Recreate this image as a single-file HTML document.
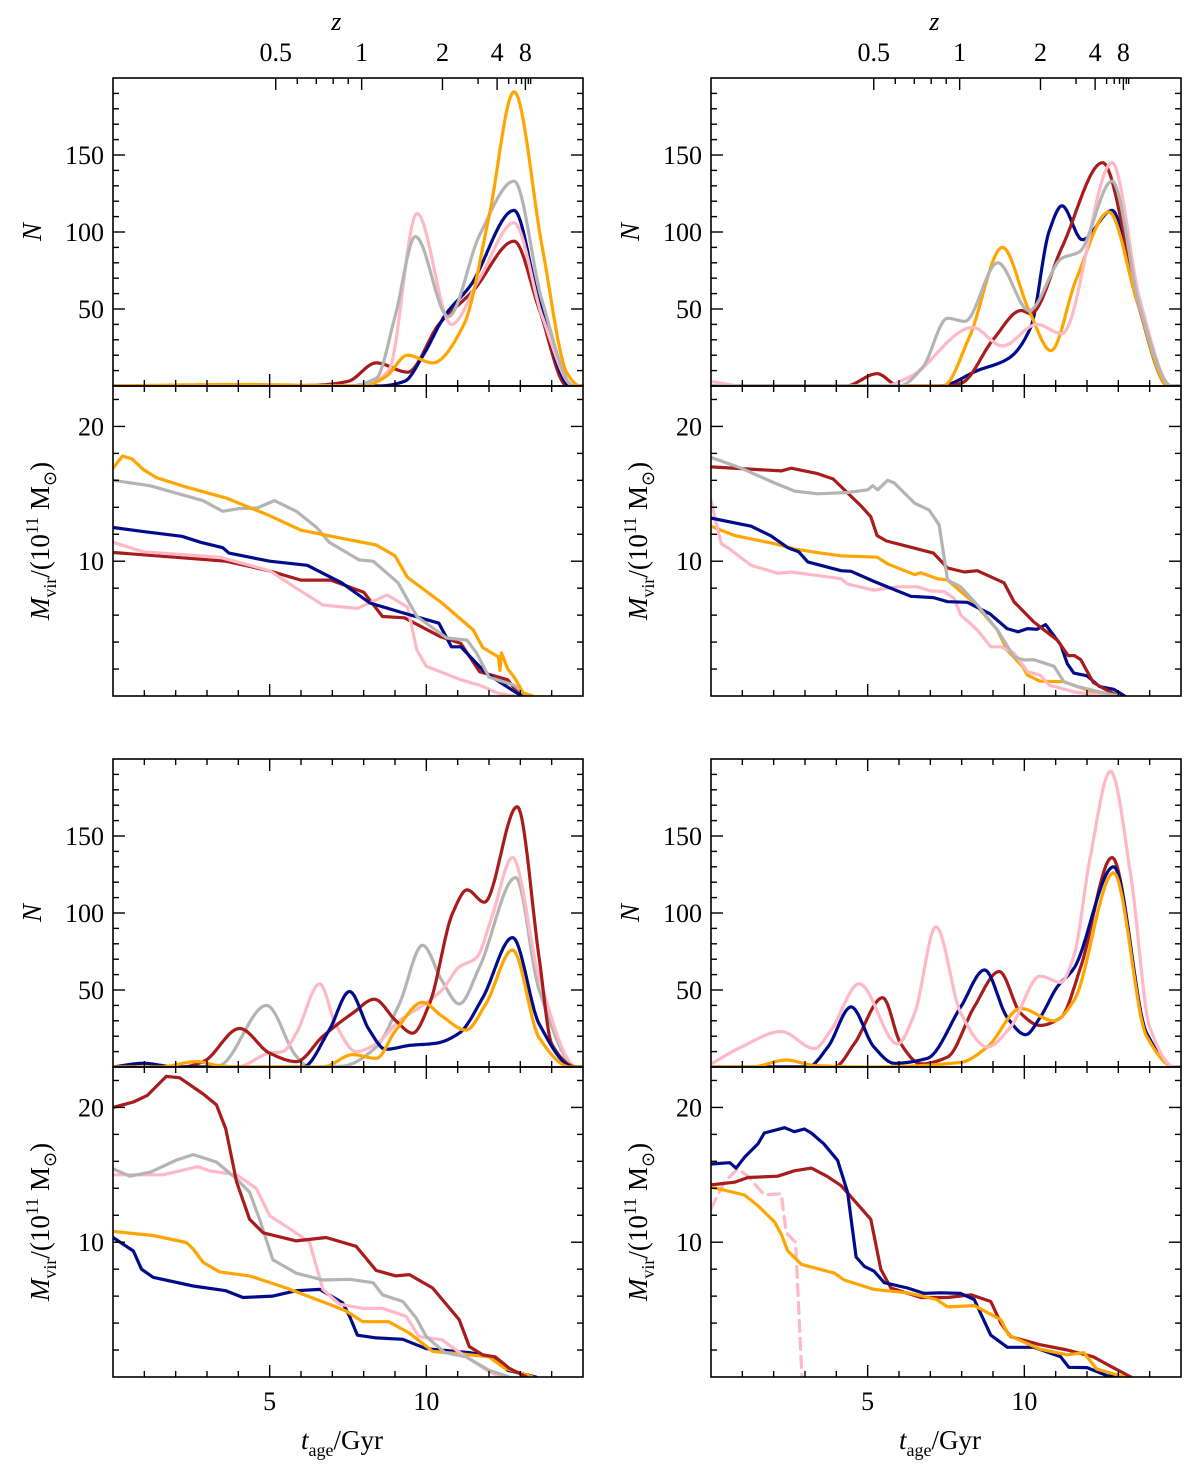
<!DOCTYPE html>
<html><head><meta charset="utf-8"><style>
html,body{margin:0;padding:0;background:#fff;}
svg{display:block;font-family:"Liberation Serif",serif;}
</style></head><body>
<svg id="fig" width="1200" height="1465" viewBox="0 0 1200 1465" xmlns="http://www.w3.org/2000/svg"></svg>
<script>
// ---- data: [t_age (Gyr), value] ----
const tlN_red=[[0,0],[5,0],[6.5,0.5],[7.5,3],[8.4,15],[9.4,9],[10.4,40],[11.5,62],[12.8,94],[13.6,50],[14.5,0],[15,0]];
const tlN_blue=[[0,0],[8.5,0],[9.3,3],[9.9,20],[10.6,46],[11.4,65],[12.8,114],[13.6,55],[14.6,0],[15,0]];
const tlN_orange=[[0,0],[4,1],[8,0],[8.7,6],[9.4,20],[10.2,15],[11.2,40],[12.0,110],[12.8,191],[13.7,90],[14.5,8],[14.9,0],[15,0]];
const tlN_gray=[[0,0],[7.5,0],[8.4,5],[9.0,45],[9.65,97],[10.7,45],[11.7,98],[12.8,133],[13.7,55],[14.7,0],[15,0]];
const tlN_pink=[[0,0],[8,0],[8.8,10],[9.7,112],[10.8,40],[11.7,70],[12.8,106],[13.7,45],[14.7,0],[15,0]];

const trN_red=[[0,0],[4.3,0],[5.3,8],[6.0,0],[7.5,0],[8.0,2],[9.0,30],[9.9,49],[10.2,47],[11.2,90],[12.5,145],[13.5,70],[14.6,0],[15,0]];
const trN_blue=[[0,0],[7.3,0],[8.5,10],[9.5,18],[10.2,38],[10.8,101],[11.2,117],[11.85,95],[12.8,114],[13.6,55],[14.6,0],[15,0]];
const trN_orange=[[0,0],[7.4,0],[8.25,32],[9.3,90],[10.15,49],[10.85,23],[11.65,69],[12.7,113],[13.6,55],[14.6,0],[15,0]];
const trN_gray=[[0,0],[6.0,0],[6.75,12],[7.55,44],[8.1,42],[9.15,80],[10.15,49],[11.2,83],[11.75,87],[12.8,133],[13.7,50],[14.7,0],[15,0]];
const trN_pink=[[0,3],[1,0],[5.5,0],[6.35,6],[8.35,38],[9.3,26],[10.4,40],[11.2,34],[12.8,145],[13.7,55],[14.7,0],[15,0]];

const blN_red=[[0,0],[2.2,0],[2.88,3.5],[4.04,25],[5.0,9],[5.85,3.5],[6.7,20],[7.65,35],[8.34,44],[9.03,30],[9.56,22],[10.1,41],[10.84,100],[11.3,115],[11.85,107],[12.9,169],[13.6,71],[14.0,15],[14.8,0],[15,0]];
const blN_gray=[[0,0],[3.0,0],[3.4,1],[4.9,40],[5.85,7],[6.27,0],[7.3,0.5],[8.4,13],[9.14,41],[9.88,79],[10.5,56],[11.05,41],[11.7,65],[12.85,123],[13.6,50],[14.8,0],[15,0]];
const blN_pink=[[0,0],[3.94,0],[5.0,9],[5.42,10],[5.85,22],[6.6,54],[7.1,28],[7.76,10],[8.4,15],[9.14,30],[9.88,40],[10.5,50],[11.05,65],[11.6,71],[12.1,98],[12.75,136],[13.6,58],[14.8,0],[15,0]];
const blN_blue=[[0,0],[0.97,2.4],[2.0,0],[6.06,0],[6.9,24],[7.55,49],[8.18,24],[8.7,11.5],[9.46,14],[10.3,15.4],[11.05,22],[11.8,45],[12.75,84],[13.6,28],[14.7,0],[15,0]];
const blN_orange=[[0,0],[1.5,0],[2.66,3.5],[3.4,0.8],[4,0],[6.7,0],[7.65,8],[8.4,5.6],[9.03,24],[9.88,42],[10.5,33],[11.26,24],[11.9,41],[12.75,76],[13.6,19],[14.6,0],[15,0]];

const brN_pink=[[0,2],[0.97,13],[2.24,23],[3.3,12],[3.83,24],[4.73,54],[5.95,15],[6.5,35],[7.18,91],[7.97,35],[8.82,13],[9.56,26],[10.5,59],[11.16,55],[11.58,72],[12.1,136],[12.75,192],[13.4,124],[14.0,26],[14.8,0],[15,0]];
const brN_blue=[[0,0],[3.09,0],[3.73,13],[4.47,39],[5.2,13],[5.85,2.4],[6.9,5.6],[7.97,39],[8.73,63],[9.46,32],[10.04,21],[10.5,32],[11.05,52],[11.58,64],[12.85,130],[13.9,22],[14.8,0],[15,0]];
const brN_red=[[0,0],[3.94,0],[4.57,15],[5.48,45],[6.06,15],[6.7,2],[7.55,6.5],[8.4,39],[9.2,62],[9.88,35],[10.5,27],[11.16,32],[11.8,65],[12.8,136],[13.9,22],[14.8,0],[15,0]];
const brN_orange=[[0,0],[1.28,0],[2.4,4.5],[3.3,1],[5,0],[7.97,3],[8.82,13],[9.88,38],[10.95,30],[11.58,43],[12.85,126],[13.9,20],[14.8,0],[15,0]];

const tlM_orange=[[0,16.9],[0.3,17.8],[0.6,17.6],[0.97,16.8],[1.39,16.2],[2.34,15.5],[3.6,14.7],[4.98,13.4],[6.0,12.3],[7.3,11.7],[8.4,11.2],[9.0,10.4],[9.4,8.8],[10.5,6.9],[11.5,4.9],[11.8,3.6],[12.3,2.9],[12.35,1.9],[12.4,3.2],[12.6,2.0],[12.8,1.4],[13.1,0.2],[13.4,0]];
const tlM_gray=[[0,16.0],[1.17,15.6],[2.87,14.5],[3.5,13.7],[4.0,13.9],[4.6,13.95],[5.15,14.5],[5.85,13.7],[6.5,12.5],[6.9,11.4],[7.85,10.1],[8.3,10.0],[9.1,8.4],[9.7,5.9],[10.65,4.3],[11.3,4.15],[11.6,3.2],[12.0,1.4],[12.8,0.8],[13.2,0]];
const tlM_blue=[[0,12.5],[0.97,12.2],[2.2,11.85],[2.8,11.4],[3.5,11.0],[3.7,10.6],[5.0,10.0],[6.2,9.7],[7.3,8.4],[8.2,6.9],[9.2,6.2],[10.4,5.4],[10.8,3.65],[11.1,3.65],[11.9,1.7],[12.9,0.2],[13.2,0]];
const tlM_red=[[0,10.65],[3.6,10.0],[4.97,9.3],[6.0,8.6],[6.95,8.6],[8.0,7.7],[8.6,5.9],[9.3,5.8],[10.45,4.4],[11.1,3.9],[11.7,1.8],[12.6,1.2],[13.0,0]];
const tlM_pink=[[0,11.4],[0.97,10.7],[3.4,10.3],[4.36,9.7],[5.0,9.3],[5.85,8.0],[6.7,6.75],[7.8,6.5],[8.75,7.5],[9.4,6.6],[9.7,3.4],[10.0,2.2],[11.1,1.2],[11.7,0.8],[12.3,0.2],[12.8,0]];

const trM_red=[[0,17.0],[2.24,16.7],[2.56,16.9],[3.4,16.5],[3.9,16.1],[4.79,14.1],[5.1,13.3],[5.3,11.9],[5.6,11.5],[7.1,10.6],[7.55,9.5],[8.08,9.2],[8.5,9.3],[9.35,8.4],[9.67,7.0],[10.3,5.5],[11.05,4.15],[11.4,3.0],[11.6,3.0],[11.8,2.7],[12.2,1.0],[12.5,0.6],[13.0,0]];
const trM_gray=[[0,17.7],[0.97,16.9],[2.03,15.8],[2.67,15.2],[3.4,15.0],[4.36,15.1],[5.0,15.3],[5.16,15.6],[5.32,15.3],[5.64,16.0],[5.85,15.8],[6.5,14.3],[6.96,13.8],[7.28,12.7],[7.55,8.6],[7.97,8.1],[8.5,6.75],[9.14,4.9],[9.67,2.9],[9.99,2.67],[10.3,2.7],[10.95,2.2],[11.26,1.06],[11.7,0.7],[12.6,0.2],[13.0,0]];
const trM_blue=[[0,13.2],[1.28,12.6],[1.9,11.9],[2.45,11.0],[2.8,10.7],[3.09,9.95],[4.15,9.3],[4.47,9.25],[5.2,8.5],[6.38,7.4],[7.1,7.3],[7.55,7.0],[8.18,6.95],[8.9,6.1],[9.45,5.0],[9.8,4.76],[10.1,5.0],[10.4,4.95],[10.68,5.3],[11.16,3.8],[11.37,2.4],[11.58,1.7],[12.0,1.5],[12.4,0.7],[12.85,0.5],[13.06,0.2],[13.2,0]];
const trM_orange=[[0,12.6],[0.76,11.9],[2.03,11.3],[2.67,10.9],[3.5,10.6],[4.15,10.4],[5.3,10.3],[5.64,9.8],[6.5,9.0],[6.7,9.15],[7.23,8.7],[7.55,8.6],[8.4,6.9],[9.14,4.9],[9.45,3.4],[9.94,2.2],[10.1,1.55],[10.5,1.1],[11.26,1.06],[11.7,0.7],[12.2,0.3],[13.0,0]];
const trM_pink=[[0,14.5],[0.17,12.8],[0.33,11.3],[0.54,11.0],[1.28,9.7],[2.13,9.1],[2.56,9.2],[4.15,8.7],[4.36,8.3],[5.2,7.85],[5.96,8.1],[6.6,8.1],[7.0,7.8],[7.44,7.75],[7.76,7.25],[7.97,6.0],[8.5,4.9],[8.93,3.65],[9.25,3.65],[9.67,3.2],[10.1,1.8],[10.5,1.55],[10.8,0.8],[11.6,0.3],[12.6,0]];

const blM_red=[[0,20.0],[0.65,20.4],[1.1,20.9],[1.7,22.3],[2.13,22.2],[2.88,21.0],[3.3,20.2],[3.6,18.4],[3.94,14.5],[4.36,11.7],[4.79,10.7],[5.85,10.1],[6.8,10.35],[7.76,9.7],[8.4,7.9],[9.03,7.5],[9.46,7.6],[10.2,6.6],[10.6,5.5],[11.05,4.25],[11.37,2.26],[11.8,1.64],[12.2,1.5],[12.64,0.65],[13.2,0]];
const blM_gray=[[0,15.45],[0.54,14.9],[1.2,15.2],[2.03,16.1],[2.56,16.5],[3.3,15.95],[3.94,14.7],[4.36,13.7],[4.68,11.7],[5.1,8.7],[5.85,7.7],[6.7,7.2],[7.55,7.25],[8.3,7.0],[8.6,6.1],[9.25,5.6],[9.67,4.4],[10.0,3.0],[10.6,1.8],[11.26,1.5],[12.0,0.5],[12.64,0]];
const blM_pink=[[0,15.0],[1.6,15.0],[2.7,15.6],[3.09,15.3],[3.94,15.0],[4.57,14.0],[5.0,11.96],[5.64,11.0],[6.27,10.0],[6.7,6.5],[7.23,5.4],[7.97,5.1],[8.6,5.1],[9.35,4.5],[9.77,3.0],[10.5,2.76],[10.95,2.0],[11.6,1.0],[12.0,0.4],[12.4,0]];
const blM_blue=[[0,10.35],[0.65,9.35],[0.91,8.0],[1.28,7.4],[2.56,6.75],[3.6,6.4],[4.15,5.9],[5.1,6.0],[5.85,6.4],[6.6,6.5],[7.33,5.5],[7.55,4.5],[7.8,3.1],[8.4,2.9],[9.25,2.8],[10.0,2.1],[11.4,1.8],[12.1,1.5],[12.6,0.5],[13.5,0]];
const blM_orange=[[0,10.8],[1.28,10.5],[2.34,9.98],[2.56,9.5],[2.88,8.5],[3.4,7.8],[4.36,7.5],[5.53,6.6],[6.9,5.4],[7.44,4.9],[7.97,4.1],[8.8,4.1],[9.46,3.26],[10.2,1.9],[11.16,1.7],[12.0,1.5],[12.5,0.65],[13.4,0]];

const brM_blue=[[0,15.8],[0.6,15.9],[0.8,15.5],[1.07,16.3],[1.5,17.3],[1.7,18.1],[2.35,18.5],[2.66,18.2],[2.98,18.4],[3.2,18.1],[3.6,17.3],[4.04,16.07],[4.36,13.7],[4.63,8.9],[4.9,8.2],[5.2,7.86],[5.53,7.0],[6.27,6.6],[6.8,6.2],[7.33,6.25],[7.97,6.2],[8.4,5.75],[8.93,3.1],[9.46,2.2],[10.3,2.2],[11.16,1.5],[11.42,0.72],[12.0,0.7],[12.64,0.1],[12.9,0]];
const brM_red=[[0,14.25],[0.75,14.45],[1.18,14.8],[2.13,14.9],[2.66,15.3],[3.2,15.5],[3.7,14.9],[4.15,14.2],[4.57,13.1],[5.1,11.7],[5.42,8.0],[5.74,6.6],[6.7,5.9],[7.55,5.9],[8.3,6.1],[8.93,5.6],[9.25,4.0],[9.56,3.0],[10.5,2.4],[11.37,2.0],[12.2,1.5],[12.75,0.8],[13.4,0]];
const brM_orange=[[0,14.1],[1.07,13.5],[1.5,12.7],[2.03,11.5],[2.24,10.6],[2.45,9.35],[2.88,8.36],[3.94,7.7],[4.25,7.2],[5.2,6.5],[6.27,6.25],[7.2,5.75],[7.55,5.2],[8.4,5.3],[9.25,4.25],[9.5,3.1],[10.5,2.06],[11.37,1.65],[11.9,1.8],[12.3,0.6],[13.2,0]];
const brM_pink=[[0,12.5],[0.43,14.5],[0.86,15.45],[1.18,14.9],[1.7,13.5],[2.24,13.6],[2.4,10.7],[2.7,10.0],[2.9,0]];

const zLabels=[0.5,1,2,4,8];
const zMinor=[0.6,0.7,0.8,0.9,3,5,6,7,9,10];
const nTicks=[50,100,150];
const mTicks=[10,20];
const tTicks=[5,10];

const COL={red:'#a81c1c',blue:'#000c8a',orange:'#ffa500',gray:'#b4b4b4',pink:'#ffb8c6'};
const NS='http://www.w3.org/2000/svg';
const svg=document.getElementById('fig');
function el(tag,attrs,parent){const e=document.createElementNS(NS,tag);for(const k in attrs)e.setAttribute(k,attrs[k]);(parent||svg).appendChild(e);return e;}

function lookback(z){
  const tH=977.8/67.74, Om=0.3089, OL=1-Om, n=400; let s=0;
  const f=x=>1/((1+x)*Math.sqrt(Om*Math.pow(1+x,3)+OL));
  const h=z/n;
  for(let i=0;i<=n;i++){const w=(i===0||i===n)?1:(i%2?4:2);s+=w*f(i*h);}
  return tH*s*h/3;
}

// monotone cubic (Fritsch-Carlson) interpolation in data space, sampled densely
function monoSample(data,step){
  const n=data.length,xs=data.map(p=>p[0]),ys=data.map(p=>p[1]);
  const d=[],m=new Array(n);
  for(let i=0;i<n-1;i++)d.push((ys[i+1]-ys[i])/(xs[i+1]-xs[i]));
  m[0]=d[0];m[n-1]=d[n-2];
  for(let i=1;i<n-1;i++){
    if(d[i-1]*d[i]<=0)m[i]=0;
    else{const h0=xs[i]-xs[i-1],h1=xs[i+1]-xs[i];const w1=2*h1+h0,w2=h1+2*h0;m[i]=(w1+w2)/(w1/d[i-1]+w2/d[i]);}
  }
  const out=[];
  for(let i=0;i<n-1;i++){
    const h=xs[i+1]-xs[i];const k=Math.max(2,Math.ceil(h/step));
    for(let j=0;j<k;j++){
      const s=j/k,s2=s*s,s3=s2*s;
      const v=(2*s3-3*s2+1)*ys[i]+(s3-2*s2+s)*h*m[i]+(-2*s3+3*s2)*ys[i+1]+(s3-s2)*h*m[i+1];
      out.push([xs[i]+s*h,v]);
    }
  }
  out.push([xs[n-1],ys[n-1]]);
  return out;
}

let clipId=0;
function panel(cfg){
  const {x0,y0,w,h,ymax,kind,series,showX,showZ,name}=cfg;
  const g=el('g',{});
  
  
  const X=t=>x0+t/15*w;
  const Y=v=>y0+h-v/ymax*h;
  const cid='clip'+(clipId++);
  const cp=el('clipPath',{id:cid},g);el('rect',{x:x0,y:y0,width:w,height:h},cp);
  const lg=el('g',{'clip-path':'url(#'+cid+')'},g);
  series.forEach(s=>{
    const src=kind==='N'?monoSample(s.data,0.03):s.data;
    const pts=src.map(p=>[X(p[0]),Y(p[1])]);
    const d='M'+pts.map(p=>p[0].toFixed(1)+','+p[1].toFixed(1)).join(' L');
    const path=el('path',{d:d,fill:'none',stroke:COL[s.c],'stroke-width':3.2,'stroke-linejoin':'round','stroke-linecap':'round'},lg);
    if(s.dash)path.setAttribute('stroke-dasharray','11,7');
    
    
  });
  el('rect',{x:x0,y:y0,width:w,height:h,fill:'none',stroke:'#000','stroke-width':1.6},g);
  const tk={stroke:'#000','stroke-width':1.4};
  for(let t=1;t<15;t++){
    const L=(t%5===0)?12:6,x=X(t);
    el('line',Object.assign({x1:x,x2:x,y1:y0+h,y2:y0+h-L},tk),g);
    if(!showZ)el('line',Object.assign({x1:x,x2:x,y1:y0,y2:y0+L},tk),g);
  }
  const minorStep=kind==='N'?10:2, majorStep=kind==='N'?50:10;
  for(let v=minorStep;v<ymax;v+=minorStep){
    const L=(v%majorStep===0)?12:6,y=Y(v);
    el('line',Object.assign({x1:x0,x2:x0+L,y1:y,y2:y},tk),g);
    el('line',Object.assign({x1:x0+w,x2:x0+w-L,y1:y,y2:y},tk),g);
  }
  (kind==='N'?nTicks:mTicks).forEach(v=>{
    const tx=el('text',{x:x0-9,y:Y(v)+9,'font-size':26,'text-anchor':'end'},g);tx.textContent=v;
    
    
  });
  if(showX){
    tTicks.forEach(t=>{
      const tx=el('text',{x:X(t),y:y0+h+33,'font-size':26,'text-anchor':'middle'},g);tx.textContent=t;
      
      
    });
    const xt=el('text',{x:x0+w/2-6,y:y0+h+72,'font-size':27,'text-anchor':'middle'},g);
    xt.innerHTML='<tspan font-style="italic">t</tspan><tspan font-size="18" dy="7">age</tspan><tspan dy="-7">/Gyr</tspan>';
    
    
  }
  if(showZ){
    zLabels.concat(zMinor).forEach(z=>{
      const t=lookback(z);if(t>15)return;const x=X(t);const major=zLabels.includes(z);
      el('line',Object.assign({x1:x,x2:x,y1:y0,y2:y0+(major?12:6)},tk),g);
    });
    zLabels.forEach(z=>{
      const tx=el('text',{x:X(lookback(z)),y:y0-17,'font-size':26,'text-anchor':'middle'},g);tx.textContent=z;
      
      
    });
    const zt=el('text',{x:X(lookback(0.82)),y:y0-48,'font-size':26,'text-anchor':'middle','font-style':'italic'},g);zt.textContent='z';
    
    
  }
  const cy=y0+h/2;
  const yt=el('text',{x:0,y:0,'font-size':27,'text-anchor':'middle',transform:'translate('+(kind==='N'?x0-72:x0-64)+','+cy+') rotate(-90)'},g);
  if(kind==='N'){yt.innerHTML='<tspan font-style="italic">N</tspan>';}
  else{yt.innerHTML='<tspan font-style="italic">M</tspan><tspan font-size="18" dy="7">vir</tspan><tspan dy="-7">/(10</tspan><tspan font-size="18" dy="-11">11</tspan><tspan dy="11"> M</tspan><tspan font-size="18" dy="7">⊙</tspan><tspan dy="-7">)</tspan>';}
  
  
}

const S=(c,data,dash)=>({c,data,dash});
const L=113,R=711,W=470;
panel({name:'top-left-count-panel',x0:L,y0:78,w:W,h:308,ymax:200,kind:'N',showZ:true,showX:false,
  series:[S('red',tlN_red),S('blue',tlN_blue),S('pink',tlN_pink),S('gray',tlN_gray),S('orange',tlN_orange)]});
panel({name:'top-left-mass-panel',x0:L,y0:386,w:W,h:310,ymax:23,kind:'M',showZ:false,showX:false,
  series:[S('red',tlM_red),S('pink',tlM_pink),S('blue',tlM_blue),S('gray',tlM_gray),S('orange',tlM_orange)]});
panel({name:'top-right-count-panel',x0:R,y0:78,w:W,h:308,ymax:200,kind:'N',showZ:true,showX:false,
  series:[S('blue',trN_blue),S('red',trN_red),S('orange',trN_orange),S('pink',trN_pink),S('gray',trN_gray)]});
panel({name:'top-right-mass-panel',x0:R,y0:386,w:W,h:310,ymax:23,kind:'M',showZ:false,showX:false,
  series:[S('orange',trM_orange),S('pink',trM_pink),S('blue',trM_blue),S('red',trM_red),S('gray',trM_gray)]});
panel({name:'bottom-left-count-panel',x0:L,y0:759,w:W,h:308,ymax:200,kind:'N',showZ:false,showX:false,
  series:[S('gray',blN_gray),S('pink',blN_pink),S('red',blN_red),S('blue',blN_blue),S('orange',blN_orange)]});
panel({name:'bottom-left-mass-panel',x0:L,y0:1067,w:W,h:310,ymax:23,kind:'M',showZ:false,showX:true,
  series:[S('blue',blM_blue),S('orange',blM_orange),S('pink',blM_pink),S('gray',blM_gray),S('red',blM_red)]});
panel({name:'bottom-right-count-panel',x0:R,y0:759,w:W,h:308,ymax:200,kind:'N',showZ:false,showX:false,
  series:[S('red',brN_red),S('blue',brN_blue),S('orange',brN_orange),S('pink',brN_pink)]});
panel({name:'bottom-right-mass-panel',x0:R,y0:1067,w:W,h:310,ymax:23,kind:'M',showZ:false,showX:true,
  series:[S('pink',brM_pink,true),S('red',brM_red),S('blue',brM_blue),S('orange',brM_orange)]});
</script>
</body></html>
